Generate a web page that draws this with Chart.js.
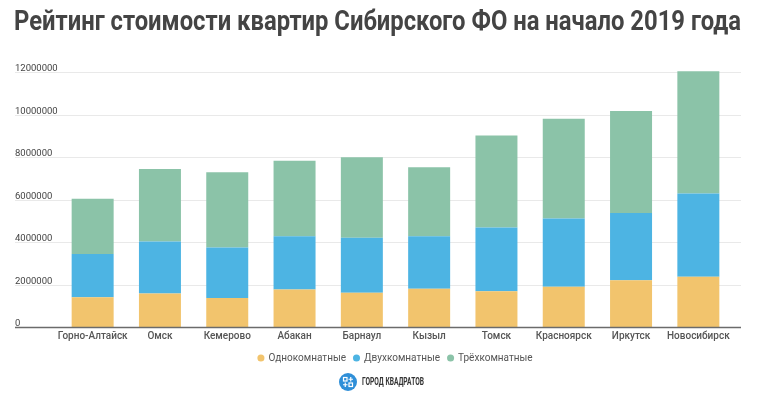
<!DOCTYPE html>
<html>
<head>
<meta charset="utf-8">
<script src="https://cdn.jsdelivr.net/npm/chart.js@4.4.1/dist/chart.umd.min.js"></script>
<style>
  body { margin: 0; background: #fff; }
  #wrap { position: relative; width: 760px; height: 398px; overflow: hidden; }
  #box { position: absolute; left: 0; top: 0; width: 760px; height: 398px; }
  #title { position: absolute; left: 14px; top: 7px; font: bold 28px/28px Roboto, sans-serif; color: #444; white-space: nowrap; transform-origin: 0 0; }
  #logo { position: absolute; left: 339px; top: 373px; height: 18px; }
  #logo .circ { position: absolute; left: 0; top: 0; width: 18px; height: 18px; border-radius: 50%; background: #2f8fd8; }
  #logo .txt { position: absolute; left: 23px; top: 2px; font: bold 11px/14px Roboto, sans-serif; color: #333; white-space: nowrap; transform-origin: 0 0; }
</style>
</head>
<body>
<div id="wrap">
  <div id="box"><canvas id="grafico"></canvas></div>
  <div id="title">Рейтинг стоимости квартир Сибирского ФО на начало 2019 года</div>
  <div id="logo">
    <div class="circ">
      <svg width="18" height="18" viewBox="0 0 18 18">
        <g fill="none" stroke="#fff" stroke-width="1.2">
          <rect x="4.5" y="4.5" width="3.5" height="3.5"/>
          <rect x="10" y="10" width="3.5" height="3.5"/>
          <path d="M11.75 4v4.5M9.5 6.25h4.5M4 11.75h4.5M6.25 9.5v4.5"/>
        </g>
      </svg>
    </div>
    <div class="txt">ГОРОД КВАДРАТОВ</div>
  </div>
</div>
<script>
const cities = ["Горно-Алтайск", "Омск", "Кемерово", "Абакан", "Барнаул", "Кызыл", "Томск", "Красноярск", "Иркутск", "Новосибирск"];
const seriesNames = ["Однокомнатные", "Двухкомнатные", "Трёхкомнатные"];
const oneRoom = [1400000, 1580000, 1360000, 1760000, 1610000, 1800000, 1680000, 1890000, 2200000, 2360000];
const twoRoom = [2030000, 2440000, 2380000, 2510000, 2590000, 2470000, 3000000, 3220000, 3170000, 3920000];
const threeRoom = [2600000, 3420000, 3540000, 3550000, 3790000, 3250000, 4330000, 4690000, 4790000, 5760000];
const yTicks = [0, 2000000, 4000000, 6000000, 8000000, 10000000, 12000000];
const colores = ["#f2c46d", "#4db4e3", "#8bc3a8"];

// fit title and logo text to the width seen in the picture
function ajustar(el, ancho) {
  const w = el.getBoundingClientRect().width;
  el.style.transform = "scaleX(" + (ancho / w) + ")";
}
ajustar(document.getElementById("title"), 727);
ajustar(document.querySelector("#logo .txt"), 62);

// gridlines and tick labels run across the whole width, like the original
const rejilla = {
  id: "rejilla",
  beforeDatasetsDraw(chart) {
    const ctx = chart.ctx;
    const y = chart.scales.y;
    ctx.save();
    ctx.font = "9.5px Roboto, sans-serif";
    ctx.fillStyle = "#444";
    ctx.textAlign = "left";
    ctx.textBaseline = "alphabetic";
    yTicks.forEach(v => {
      const py = Math.round(y.getPixelForValue(v)) + 0.5;
      if (v > 0) {
        ctx.strokeStyle = "#e9e9e9";
        ctx.lineWidth = 1;
        ctx.beginPath();
        ctx.moveTo(15, py);
        ctx.lineTo(741, py);
        ctx.stroke();
      }
      ctx.fillText(String(v), 15, py - 2);
    });
    ctx.restore();
  },
  afterDatasetsDraw(chart) {
    const ctx = chart.ctx;
    const py = chart.scales.y.getPixelForValue(0) + 0.5;
    ctx.save();
    ctx.strokeStyle = "#6b6b6b";
    ctx.lineWidth = 1.5;
    ctx.beginPath();
    ctx.moveTo(15, py);
    ctx.lineTo(741, py);
    ctx.stroke();
    ctx.restore();
  }
};

const datos = [oneRoom, twoRoom, threeRoom];

new Chart(document.getElementById("grafico"), {
  type: "bar",
  data: {
    labels: cities,
    datasets: seriesNames.map((n, i) => ({
      label: n,
      data: datos[i],
      backgroundColor: colores[i],
      borderWidth: 0,
      clip: false,
      categoryPercentage: 1,
      barPercentage: 0.624
    }))
  },
  options: {
    responsive: true,
    maintainAspectRatio: false,
    animation: false,
    layout: { padding: { left: 59, right: 28, top: 72, bottom: 25 } },
    plugins: {
      legend: {
        position: "bottom",
        labels: {
          usePointStyle: true,
          pointStyle: "circle",
          boxWidth: 5,
          boxHeight: 5,
          padding: 8,
          color: "#555",
          font: { family: "Roboto", size: 10 }
        }
      },
      title: { display: false },
      tooltip: { enabled: false }
    },
    scales: {
      x: {
        stacked: true,
        grid: { display: false, drawTicks: false },
        border: { display: false },
        ticks: { color: "#555", padding: 3, font: { family: "Roboto", size: 10, weight: "500" }, maxRotation: 0, autoSkip: false }
      },
      y: {
        stacked: true,
        display: false,
        min: 0,
        max: 12000000
      }
    }
  },
  plugins: [rejilla]
});
</script>
</body>
</html>
